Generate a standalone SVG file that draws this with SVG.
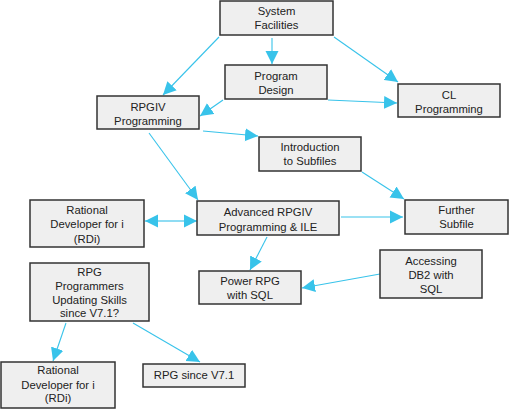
<svg xmlns="http://www.w3.org/2000/svg" width="509" height="410" viewBox="0 0 509 410">
<defs>
<style>
.n rect{fill:#efefef;stroke:#333;stroke-width:1.5}
.n text{font-family:"Liberation Sans",Arial,sans-serif;font-size:11.3px;fill:#222;text-anchor:middle}
.c line{stroke:#38c3ea;stroke-width:1.1;fill:none;marker-end:url(#a)}
</style>
<marker id="a" markerUnits="userSpaceOnUse" markerWidth="14" markerHeight="14" refX="13" refY="6.5" orient="auto" viewBox="0 0 14 13">
<path d="M0,0 L13,6.5 L0,13 z" fill="#38c3ea"/>
</marker>
<marker id="s" markerUnits="userSpaceOnUse" markerWidth="14" markerHeight="14" refX="0" refY="6.5" orient="auto" viewBox="0 0 14 13">
<path d="M13,0 L0,6.5 L13,13 z" fill="#38c3ea"/>
</marker>
</defs>
<rect width="509" height="410" fill="#fff"/>
<g class="c" id="connectors">
<line x1="219" y1="37" x2="163" y2="95"/>
<line x1="272" y1="38" x2="272" y2="64"/>
<line x1="334" y1="37" x2="398" y2="82"/>
<line x1="223" y1="100" x2="200" y2="116"/>
<line x1="328" y1="100" x2="397" y2="103"/>
<line x1="203" y1="131" x2="258" y2="136"/>
<line x1="149" y1="133" x2="198" y2="200"/>
<line x1="362" y1="172" x2="404" y2="199"/>
<line x1="341" y1="217" x2="403" y2="217"/>
<line x1="145" y1="221" x2="197" y2="221" style="stroke-width:2;stroke:#8fdcf3;marker-start:url(#s)"/>
<line x1="267" y1="237" x2="250" y2="270"/>
<line x1="380" y1="274" x2="302" y2="288"/>
<line x1="66" y1="323" x2="53" y2="361"/>
<line x1="133" y1="323" x2="200" y2="362"/>
</g>
<g class="n" id="sysfac"><rect x="220" y="1" width="113" height="34"/><text x="276.5" y="15">System</text><text x="276.5" y="29">Facilities</text></g>
<g class="n" id="progdesign"><rect x="225" y="65" width="102" height="34"/><text x="276" y="80">Program</text><text x="276" y="94">Design</text></g>
<g class="n" id="cl"><rect x="398" y="84" width="102" height="33"/><text x="449" y="99">CL</text><text x="449" y="113">Programming</text></g>
<g class="n" id="rpgiv"><rect x="97" y="96" width="102" height="33"/><text x="148" y="111">RPGIV</text><text x="148" y="125">Programming</text></g>
<g class="n" id="intro"><rect x="259" y="137" width="102" height="34"/><text x="310" y="151">Introduction</text><text x="310" y="165">to Subfiles</text></g>
<g class="n" id="further"><rect x="405" y="200" width="103" height="34"/><text x="456.5" y="214">Further</text><text x="456.5" y="228">Subfile</text></g>
<g class="n" id="advanced"><rect x="197" y="201" width="142" height="34"/><text x="268" y="216">Advanced RPGIV</text><text x="268" y="231">Programming &amp; ILE</text></g>
<g class="n" id="rdi1"><rect x="30" y="200" width="114" height="47"/><text x="87" y="214">Rational</text><text x="87" y="228">Developer for i</text><text x="87" y="243">(RDi)</text></g>
<g class="n" id="db2"><rect x="380" y="250" width="102" height="48"/><text x="431" y="265">Accessing</text><text x="431" y="279">DB2 with</text><text x="431" y="293">SQL</text></g>
<g class="n" id="power"><rect x="199" y="271" width="102" height="33"/><text x="250" y="285">Power RPG</text><text x="250" y="299">with SQL</text></g>
<g class="n" id="updating"><rect x="30" y="263" width="119" height="58"/><text x="89.5" y="276">RPG</text><text x="89.5" y="290">Programmers</text><text x="89.5" y="304">Updating Skills</text><text x="89.5" y="317">since V7.1?</text></g>
<g class="n" id="rdi2"><rect x="1" y="362" width="114" height="46"/><text x="58" y="374">Rational</text><text x="58" y="389">Developer for i</text><text x="58" y="402">(RDi)</text></g>
<g class="n" id="v71"><rect x="143" y="364" width="102" height="23"/><text x="194" y="379">RPG since V7.1</text></g>
</svg>
